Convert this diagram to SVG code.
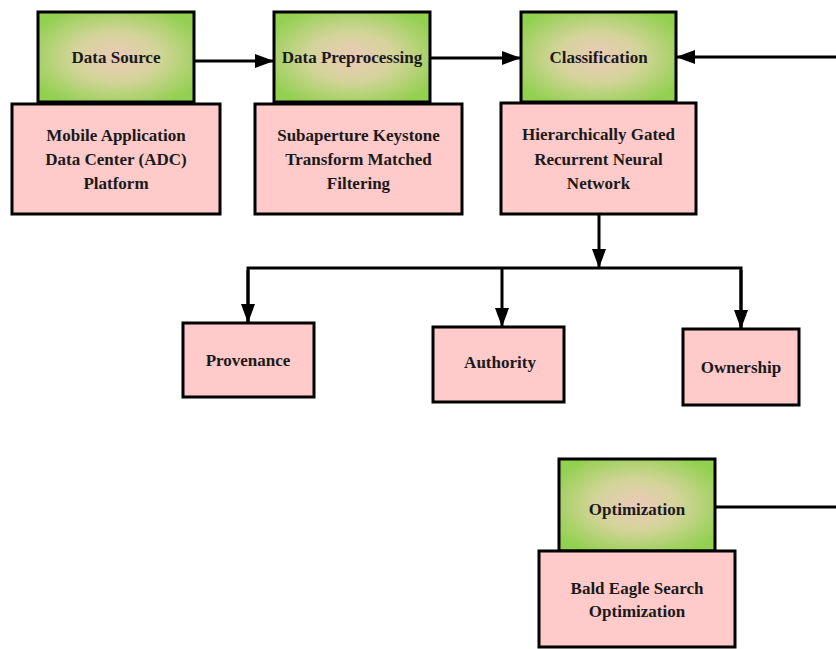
<svg xmlns="http://www.w3.org/2000/svg" width="836" height="649" viewBox="0 0 836 649">
<defs>
<radialGradient id="gg" cx="50%" cy="50%" r="60%">
<stop offset="0" stop-color="#ecc9b9"/>
<stop offset="0.45" stop-color="#d4d49a"/>
<stop offset="1" stop-color="#92d050"/>
</radialGradient>
<marker id="ah" markerUnits="userSpaceOnUse" markerWidth="20" markerHeight="14" refX="19" refY="7" orient="auto">
<path d="M0,0 L19,7 L0,14 z" fill="#000"/>
</marker>
<style>
.g{fill:url(#gg);stroke:#000;stroke-width:3}
.p{fill:#ffcaca;stroke:#000;stroke-width:3}
.t{font-family:"Liberation Serif","Times New Roman",serif;font-weight:bold;font-size:17px;fill:#1a1a1a;text-anchor:middle}
.c{fill:none;stroke:#000;stroke-width:3}
</style>
</defs>
<g id="connectors">
<line class="c" x1="194" y1="61" x2="274" y2="61" marker-end="url(#ah)"/>
<line class="c" x1="430" y1="58" x2="521" y2="58" marker-end="url(#ah)"/>
<line class="c" x1="836" y1="57" x2="676" y2="57" marker-end="url(#ah)"/>
<line class="c" x1="599" y1="214" x2="599" y2="268" marker-end="url(#ah)"/>
<polyline class="c" points="248,323 248,268 741,268 741,329" stroke-linejoin="miter"/>
<line class="c" x1="248" y1="270" x2="248" y2="323" marker-end="url(#ah)"/>
<line class="c" x1="502" y1="268" x2="502" y2="327" marker-end="url(#ah)"/>
<line class="c" x1="741" y1="270" x2="741" y2="329" marker-end="url(#ah)"/>
<line class="c" x1="715" y1="507" x2="836" y2="507"/>
</g>
<g id="data-source">
<rect class="g" x="38" y="12" width="156" height="90"/>
<text class="t" x="116" y="63">Data Source</text>
</g>
<g id="adc-platform">
<rect class="p" x="12" y="104" width="208" height="110"/>
<text class="t" x="116" y="141">Mobile Application</text>
<text class="t" x="116" y="165">Data Center (ADC)</text>
<text class="t" x="116" y="189">Platform</text>
</g>
<g id="data-preprocessing">
<rect class="g" x="274" y="12" width="156" height="90"/>
<text class="t" x="352" y="63">Data Preprocessing</text>
</g>
<g id="keystone">
<rect class="p" x="255" y="104" width="207" height="110"/>
<text class="t" x="358.5" y="141">Subaperture Keystone</text>
<text class="t" x="358.5" y="165">Transform Matched</text>
<text class="t" x="358.5" y="189">Filtering</text>
</g>
<g id="classification">
<rect class="g" x="521" y="12" width="155" height="90"/>
<text class="t" x="598.5" y="63">Classification</text>
</g>
<g id="hgrnn">
<rect class="p" x="501" y="103" width="195" height="111"/>
<text class="t" x="598.5" y="140">Hierarchically Gated</text>
<text class="t" x="598.5" y="165">Recurrent Neural</text>
<text class="t" x="598.5" y="189">Network</text>
</g>
<g id="provenance">
<rect class="p" x="183" y="323" width="131" height="74"/>
<text class="t" x="248" y="366">Provenance</text>
</g>
<g id="authority">
<rect class="p" x="433" y="327" width="131" height="75"/>
<text class="t" x="500" y="368">Authority</text>
</g>
<g id="ownership">
<rect class="p" x="683" y="329" width="116" height="76"/>
<text class="t" x="741" y="373">Ownership</text>
</g>
<g id="optimization">
<rect class="g" x="559" y="459" width="156" height="92"/>
<text class="t" x="637" y="515">Optimization</text>
</g>
<g id="bald-eagle">
<rect class="p" x="539" y="551" width="196" height="96"/>
<text class="t" x="637" y="594">Bald Eagle Search</text>
<text class="t" x="637" y="617">Optimization</text>
</g>
</svg>
